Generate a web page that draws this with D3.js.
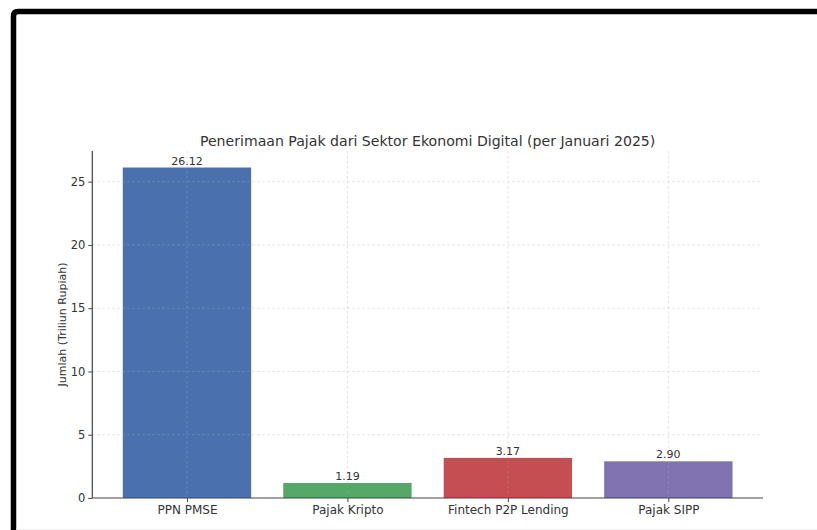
<!DOCTYPE html>
<html><head><meta charset="utf-8">
<script src="https://cdn.jsdelivr.net/npm/d3@7"></script>
<style>body{margin:0;background:#fff}svg{display:block}text{font-family:"DejaVu Sans",sans-serif;fill:#333}</style>
</head><body><svg id="c" width="817" height="530"></svg>
<script>
const categories = ["PPN PMSE", "Pajak Kripto", "Fintech P2P Lending", "Pajak SIPP"];
const values = [26.12, 1.19, 3.17, 2.90];
const colors = ["#4a70ae", "#55a868", "#c44e52", "#8172b2"];
const yTicks = [0, 5, 10, 15, 20, 25];
const title = "Penerimaan Pajak dari Sektor Ekonomi Digital (per Januari 2025)";
const yLabel = "Jumlah (Triliun Rupiah)";

const svg = d3.select("#c");
// frame
svg.append("path").attr("d", "M13.5,530 L13.5,16 Q13.5,11.5 18,11.5 L817,11.5")
  .attr("fill", "none").attr("stroke", "#000").attr("stroke-width", 5.5);
svg.append("line").attr("x1", 16).attr("x2", 817).attr("y1", 529.5).attr("y2", 529.5).attr("stroke", "#eee");

const L = 92.3, R = 763, T = 151, B = 498;
const x = d3.scaleLinear().domain([-0.59, 3.59]).range([L, R]);
const y = d3.scaleLinear().domain([0, 27.426]).range([B, T]);
const bw = x(0.4) - x(-0.4);

const g = svg.append("g");
// bars
g.selectAll("rect.bar").data(values).enter().append("rect")
  .attr("x", (d, i) => x(i) - bw / 2).attr("width", bw)
  .attr("y", d => y(d)).attr("height", d => B - y(d))
  .attr("fill", (d, i) => colors[i]);
// grid (on top, faint)
g.selectAll("line.hg").data(yTicks.slice(1)).enter().append("line")
  .attr("x1", L).attr("x2", R).attr("y1", d => y(d)).attr("y2", d => y(d))
  .attr("stroke", "#b0b0b0").attr("stroke-opacity", 0.45).attr("stroke-width", 0.8).attr("stroke-dasharray", "2.5,2.5");
g.selectAll("line.vg").data(categories).enter().append("line")
  .attr("x1", (d, i) => x(i)).attr("x2", (d, i) => x(i)).attr("y1", T).attr("y2", B)
  .attr("stroke", "#b0b0b0").attr("stroke-opacity", 0.45).attr("stroke-width", 0.8).attr("stroke-dasharray", "2.5,2.5");

// axes
const yAxis = d3.axisLeft(y).tickValues(yTicks).tickSize(4).tickPadding(3).tickFormat(d3.format("d"));
const ya = svg.append("g").attr("transform", `translate(${L},0)`).call(yAxis);
ya.select(".domain").attr("d", `M0,${T}V${B}`).attr("stroke", "#444").attr("stroke-width", 1.2);
ya.selectAll(".tick line").attr("stroke", "#444");
ya.selectAll(".tick text").attr("font-size", 11.5).attr("fill", "#333").attr("font-family", "DejaVu Sans");

const xAxis = d3.axisBottom(x).tickValues([0, 1, 2, 3]).tickSize(4).tickPadding(3).tickFormat(i => categories[i]);
const xa = svg.append("g").attr("transform", `translate(0,${B})`).call(xAxis);
xa.select(".domain").attr("d", `M${L},0H${R}`).attr("stroke", "#444").attr("stroke-width", 1.2);
xa.selectAll(".tick line").attr("stroke", "#444");
xa.selectAll(".tick text").attr("font-size", 12).attr("fill", "#333").attr("font-family", "DejaVu Sans");

// value labels
g.selectAll("text.val").data(values).enter().append("text")
  .attr("x", (d, i) => x(i)).attr("y", d => y(d) - 3)
  .attr("text-anchor", "middle").attr("font-size", 11)
  .text(d => d.toFixed(2));

svg.append("text").attr("x", (L + R) / 2).attr("y", 145.5).attr("text-anchor", "middle")
  .attr("font-size", 14.1).text(title);
svg.append("text").attr("transform", `translate(66,${(T + B) / 2}) rotate(-90)`)
  .attr("text-anchor", "middle").attr("font-size", 11).text(yLabel);
</script></body></html>
